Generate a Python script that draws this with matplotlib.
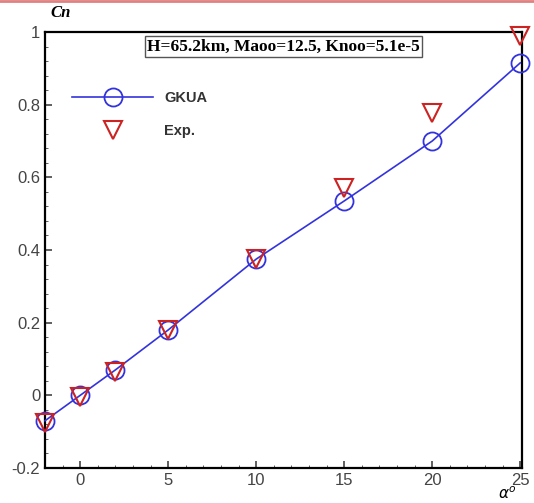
import numpy as np
import matplotlib.pyplot as plt
from matplotlib.ticker import MultipleLocator

# angle of attack (deg) and normal force coefficient
alpha = [-2, 0, 2, 5, 10, 15, 20, 25]
cn_gkua = [-0.07, 0.0, 0.07, 0.18, 0.375, 0.535, 0.70, 0.915]
cn_exp = [-0.075, -0.005, 0.065, 0.18, 0.375, 0.572, 0.776, 0.99]

fig = plt.figure(figsize=(5.34, 5.03), dpi=100)
ax = fig.add_axes([45 / 534, 35 / 503, 477 / 534, 436 / 503])

ax.plot(alpha, cn_gkua, "-o", color="#3333dd", lw=1.2, ms=13, mfc="none", mew=1.3, label="GKUA", clip_on=False, zorder=3)
ax.plot(alpha, cn_exp, "v", color="#cc2222", ms=13, mfc="none", mew=1.5, ls="none", label="Exp.", clip_on=False, zorder=4)

ax.set_xlim(-2, 25.1)
ax.set_ylim(-0.2, 1)
ax.set_xticks([0, 5, 10, 15, 20, 25])
ax.set_yticks([-0.2, 0, 0.2, 0.4, 0.6, 0.8, 1])
ax.set_yticklabels(["-0.2", "0", "0.2", "0.4", "0.6", "0.8", "1"])
ax.xaxis.set_minor_locator(MultipleLocator(1))
ax.yaxis.set_minor_locator(MultipleLocator(0.04))
ax.tick_params(which="both", direction="in", labelsize=12, colors="#444444")
ax.tick_params(which="major", length=5, width=1.2)
ax.tick_params(which="minor", length=2.5)
for lbl in ax.get_xticklabels() + ax.get_yticklabels():
    lbl.set_family("Liberation Sans")
for s in ax.spines.values():
    s.set_linewidth(1.6)

leg = ax.legend(loc="upper left", bbox_to_anchor=(0.03, 0.895), frameon=False,
                handlelength=5.5, labelspacing=1.3, prop={"family": "Liberation Sans", "weight": "bold", "size": 10.5})
for t in leg.get_texts():
    t.set_color("#333333")

ax.text(0.5, 0.985, "H=65.2km, Maoo=12.5, Knoo=5.1e-5", transform=ax.transAxes, ha="center", va="top",
        family="Liberation Serif", fontweight="bold", fontsize=12.5,
        bbox=dict(facecolor="white", edgecolor="#555555", boxstyle="square,pad=0.15"))

fig.text(50 / 534, 1 - 13 / 503, "Cn", family="Liberation Serif", style="italic", fontweight="bold", fontsize=12, va="center")
fig.text(498 / 534, 1 - 494 / 503, r"$\alpha^o$", fontsize=11, va="center")
fig.add_artist(plt.Line2D([0, 1], [1 - 1 / 503, 1 - 1 / 503], color="#e08080", lw=2))

fig.savefig("out.png", dpi=100)
